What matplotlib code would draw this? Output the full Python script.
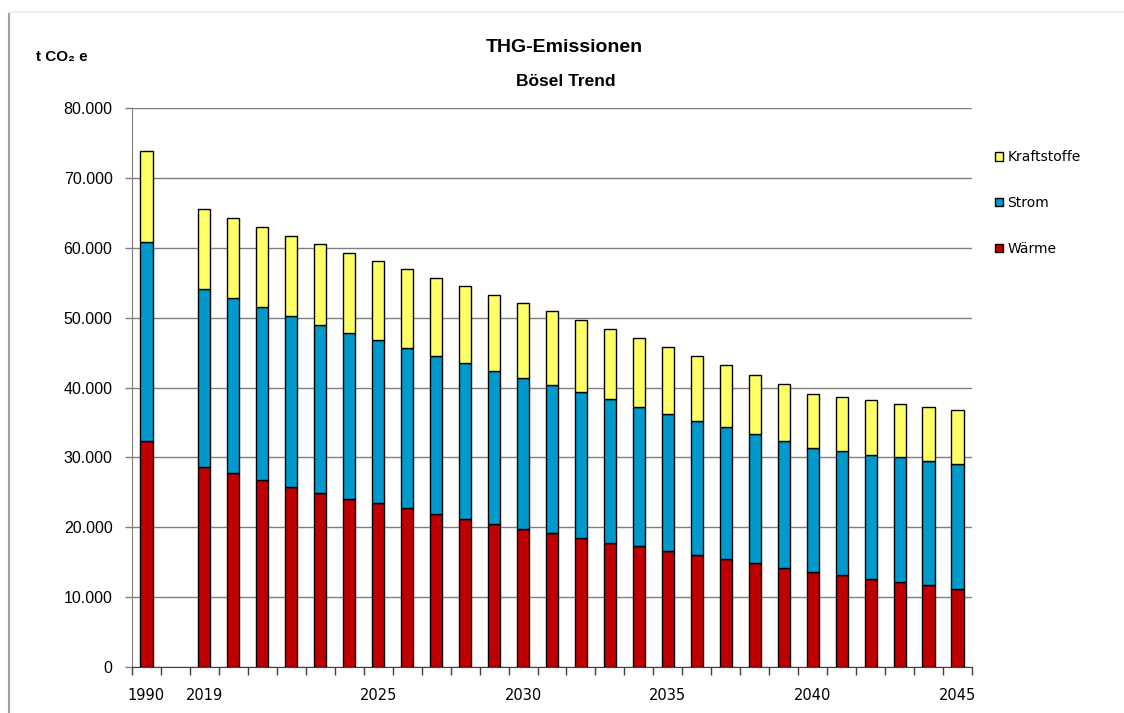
import numpy as np
import matplotlib
matplotlib.use('Agg')
import matplotlib.pyplot as plt
from matplotlib.ticker import FuncFormatter, FixedLocator
from matplotlib.patches import Patch
from matplotlib.lines import Line2D

# Jahre (1990 als Bezugsjahr, danach Luecke bis 2019)
jahre = [1990] + list(range(2019, 2046))

# THG-Emissionen in t CO2e je Sektor
waerme = [32300, 28650, 27700, 26700, 25750, 24850, 24050, 23400, 22700, 21950,
          21250, 20500, 19750, 19150, 18450, 17800, 17250, 16650, 16000, 15450,
          14850, 14200, 13600, 13100, 12650, 12200, 11700, 11200]
strom = [28500, 25400, 25050, 24800, 24550, 24150, 23800, 23400, 23000, 22550,
         22200, 21850, 21650, 21150, 20900, 20500, 20000, 19550, 19250, 18850,
         18450, 18150, 17750, 17750, 17750, 17850, 17800, 17800]
kraftstoffe = [13100, 11450, 11500, 11450, 11400, 11500, 11350, 11250, 11250, 11200,
               11050, 10950, 10700, 10600, 10300, 10100, 9900, 9600, 9250, 8850,
               8500, 8150, 7650, 7800, 7750, 7600, 7700, 7850]

beschriftete_jahre = [1990, 2019, 2025, 2030, 2035, 2040, 2045]

farben = {'Wärme': '#C00000', 'Strom': '#0099CC', 'Kraftstoffe': '#FFFF66'}

# Position: 1990 auf Platz 0, ein leerer Platz, dann 2019..2045
pos = np.array([0] + [j - 2019 + 2 for j in jahre[1:]])
w = np.array(waerme)
s = np.array(strom)
k = np.array(kraftstoffe)

fig = plt.figure(figsize=(11.24, 7.13), dpi=100)
ax = fig.add_axes([132 / 1124, 46 / 713, 840 / 1124, 559 / 713])

breite = 0.42
ax.bar(pos, w, breite, color=farben['Wärme'], edgecolor='black', linewidth=1, zorder=3)
ax.bar(pos, s, breite, bottom=w, color=farben['Strom'], edgecolor='black', linewidth=1, zorder=3)
ax.bar(pos, k, breite, bottom=w + s, color=farben['Kraftstoffe'], edgecolor='black', linewidth=1, zorder=3)

ax.set_xlim(-0.5, 28.5)
ax.set_ylim(0, 80000)

# y-Achse mit deutschem Tausenderpunkt
ax.set_yticks(np.arange(0, 80001, 10000))
ax.yaxis.set_major_formatter(FuncFormatter(lambda v, p: '{:,.0f}'.format(v).replace(',', '.')))
ax.yaxis.grid(True, color='#7f7f7f', linewidth=1, zorder=0)
ax.tick_params(axis='y', length=5, width=1, color='#7f7f7f', pad=9, labelsize=11.5)
for t in ax.get_yticklabels():
    t.set_fontfamily('Liberation Sans')

# x-Achse: Striche an den Kategoriegrenzen, Beschriftung mittig
ax.xaxis.set_minor_locator(FixedLocator(np.arange(-0.5, 29, 1)))
lab_pos = [pos[jahre.index(j)] for j in beschriftete_jahre]
ax.set_xticks(lab_pos)
ax.set_xticklabels([str(j) for j in beschriftete_jahre], fontfamily='DejaVu Sans', fontsize=10.5)
ax.tick_params(axis='x', which='major', length=0, pad=15)
ax.tick_params(axis='x', which='minor', length=6, width=1, color='#404040')

ax.spines['top'].set_visible(False)
ax.spines['right'].set_visible(False)
ax.spines['left'].set_color('#7f7f7f')
ax.spines['bottom'].set_color('#404040')

# Titel
fig.text(564 / 1124, 1 - 47 / 713, 'THG-Emissionen', ha='center', va='center',
         fontfamily='Liberation Sans', fontweight='bold', fontsize=14)
fig.text(566 / 1124, 1 - 82 / 713, 'Bösel Trend', ha='center', va='center',
         fontfamily='Liberation Sans', fontweight='bold', fontsize=12.5)
fig.text(36 / 1124, 1 - 57 / 713, 't CO₂ e', ha='left', va='center',
         fontfamily=['Liberation Sans', 'DejaVu Sans'], fontweight='bold', fontsize=11)

# Legende rechts
handles = [Patch(facecolor=farben[n], edgecolor='black', linewidth=1)
           for n in ['Kraftstoffe', 'Strom', 'Wärme']]
fig.legend(handles, ['Kraftstoffe', 'Strom', 'Wärme'], loc='upper left',
           bbox_to_anchor=(995 / 1124, 1 - 150 / 713), frameon=False,
           prop={'family': 'DejaVu Sans', 'size': 10}, handlelength=0.6,
           handleheight=0.6, handletextpad=0.3, labelspacing=2.3, borderpad=0,
           borderaxespad=0)

# Rahmenlinien
fig.add_artist(Line2D([9 / 1124, 9 / 1124], [0, 1 - 12 / 713], transform=fig.transFigure,
                      color='#a0a0a0', linewidth=1.5))
fig.add_artist(Line2D([9 / 1124, 1], [1 - 12 / 713, 1 - 12 / 713], transform=fig.transFigure,
                      color='#eeeeee', linewidth=1.5))

fig.savefig('out.png', dpi=100, facecolor='white')
